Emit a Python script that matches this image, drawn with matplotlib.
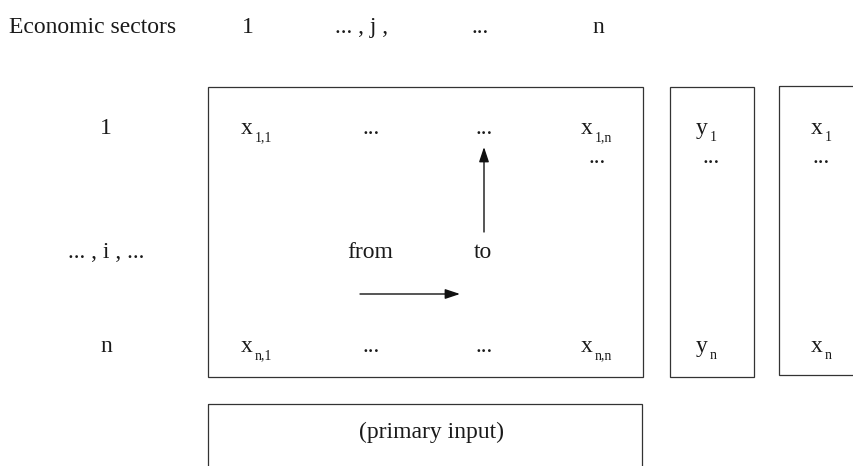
import matplotlib
matplotlib.use("Agg")
import matplotlib.pyplot as plt
from matplotlib.patches import Rectangle

plt.rcParams['font.family'] = ['Liberation Serif', 'DejaVu Serif']

header_title = "Economic sectors"
col_labels = ["1", "... , j ,", "...", "n"]
row_labels = ["1", "... , i , ...", "n"]
top_cells = [("x", "1,1"), ("...", ""), ("...", ""), ("x", "1,n")]
bottom_cells = [("x", "n,1"), ("...", ""), ("...", ""), ("x", "n,n")]
final_demand = [("y", "1"), ("y", "n")]
total_output = [("x", "1"), ("x", "n")]
flow_labels = ["from", "to"]
input_label = "(primary input)"

# layout (pixel coordinates, y downward)
col_x_header = [248, 362, 480, 598]
col_x_cells = [250, 371, 484, 590]
row_base = [134, 258, 352]
header_base = 33
fs = 17
sub_fs = 10
ec = "#333333"
tc = "#1a1a1a"

fig = plt.figure(figsize=(8.54, 4.66), dpi=100)
ax = fig.add_axes([0, 0, 1, 1])
ax.set_xlim(0, 854)
ax.set_ylim(466, 0)
ax.axis("off")

def cell(x, y, base, sub):
    if sub:
        ax.text(x + 3, y, base, fontsize=fs, ha="right", va="baseline", color=tc)
        ax.text(x + 5, y + 7, sub, fontsize=sub_fs, ha="left", va="baseline", color=tc)
    else:
        ax.text(x, y, base, fontsize=fs, ha="center", va="baseline", color=tc)

ax.text(9, header_base, header_title, fontsize=fs, ha="left", va="baseline", color=tc)
for x, lab in zip(col_x_header, col_labels):
    ax.text(x, header_base, lab, fontsize=fs, ha="center", va="baseline", color=tc)

for y, lab in zip(row_base, row_labels):
    ax.text(106, y, lab, fontsize=fs, ha="center", va="baseline", color=tc)

# boxes
ax.add_patch(Rectangle((208, 87), 435, 290, fill=False, ec=ec, lw=0.9))
ax.add_patch(Rectangle((670, 87), 84, 290, fill=False, ec=ec, lw=0.9))
ax.add_patch(Rectangle((779, 86), 100, 289, fill=False, ec=ec, lw=0.9))
ax.add_patch(Rectangle((208, 404), 434, 80, fill=False, ec=ec, lw=0.9))

for x, (b, s) in zip(col_x_cells, top_cells):
    cell(x, row_base[0], b, s)
for x, (b, s) in zip(col_x_cells, bottom_cells):
    cell(x, row_base[2], b, s)
ax.text(597, 163, "...", fontsize=fs, ha="center", va="baseline", color=tc)

cell(705, row_base[0], *final_demand[0])
ax.text(711, 163, "...", fontsize=fs, ha="center", va="baseline", color=tc)
cell(705, row_base[2], *final_demand[1])

cell(820, row_base[0], *total_output[0])
ax.text(821, 163, "...", fontsize=fs, ha="center", va="baseline", color=tc)
cell(820, row_base[2], *total_output[1])

ax.text(370, row_base[1], flow_labels[0], fontsize=fs, ha="center", va="baseline", color=tc)
ax.text(483, row_base[1], flow_labels[1], fontsize=fs, ha="center", va="baseline", color=tc)

arrow_kw = dict(arrowstyle="-|>,head_length=0.9,head_width=0.3", color="#111111",
                lw=1.0, shrinkA=0, shrinkB=0)
ax.annotate("", xy=(484, 147), xytext=(484, 232), arrowprops=arrow_kw)
ax.annotate("", xy=(460, 294), xytext=(360, 294), arrowprops=arrow_kw)

ax.text(432, 438, input_label, fontsize=fs, ha="center", va="baseline", color=tc)

fig.savefig("out.png", dpi=100, facecolor="white")
